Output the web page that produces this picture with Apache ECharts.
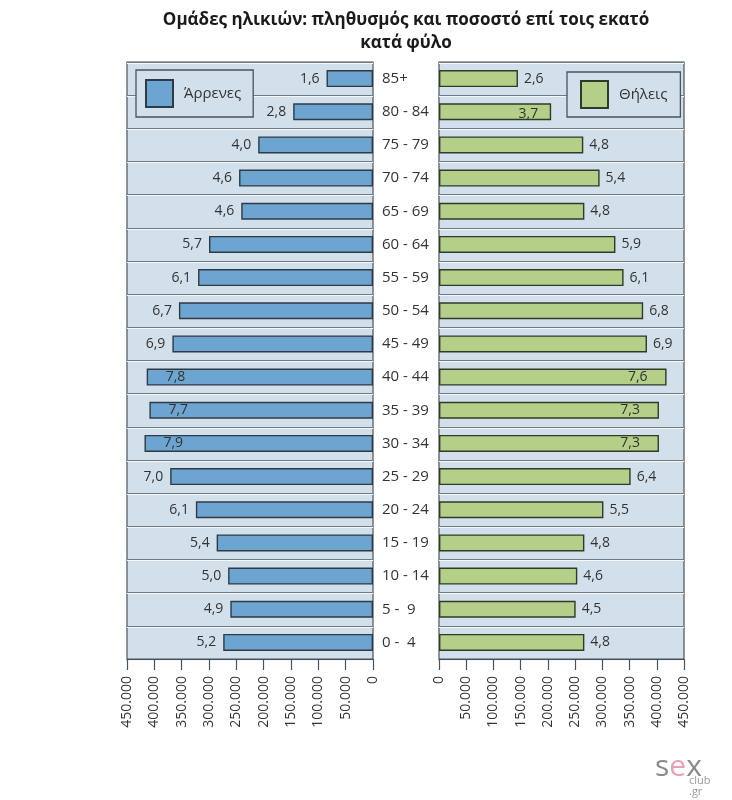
<!DOCTYPE html>
<html>
<head>
<meta charset="utf-8">
<script src="https://cdn.jsdelivr.net/npm/echarts@6/dist/echarts.min.js"></script>
<style>
  html, body { margin: 0; padding: 0; background: #ffffff; }
  #chart { width: 732px; height: 800px; }
</style>
</head>
<body>
<div id="chart"></div>
<script>
// age groups, top row first
const ages = ['85+', '80 - 84', '75 - 79', '70 - 74', '65 - 69', '60 - 64', '55 - 59', '50 - 54', '45 - 49',
  '40 - 44', '35 - 39', '30 - 34', '25 - 29', '20 - 24', '15 - 19', '10 - 14', '5 -  9', '0 -  4'];

// population (bar length)
const malePop = [85000, 146000, 210000, 245000, 241000, 300000, 320000, 355000, 367000,
  414000, 409000, 418000, 371000, 324000, 286000, 265000, 261000, 274000];
const femalePop = [145000, 206000, 265000, 295000, 267000, 324000, 339000, 375000, 382000,
  418000, 404000, 404000, 352000, 302000, 267000, 254000, 251000, 267000];

// percent labels
const malePct = ['1,6', '2,8', '4,0', '4,6', '4,6', '5,7', '6,1', '6,7', '6,9',
  '7,8', '7,7', '7,9', '7,0', '6,1', '5,4', '5,0', '4,9', '5,2'];
const femalePct = ['2,6', '3,7', '4,8', '5,4', '4,8', '5,9', '6,1', '6,8', '6,9',
  '7,6', '7,3', '7,3', '6,4', '5,5', '4,8', '4,6', '4,5', '4,8'];

const maleName = 'Άρρενες';
const femaleName = 'Θήλεις';
const titleLines = ['Ομάδες ηλικιών: πληθυσμός και ποσοστό επί τοις εκατό', 'κατά φύλο'];

// rows where the label sits inside the bar
const maleInside = [9, 10, 11];
const femaleInside = [1, 9, 10, 11];

const FONT = '"Open Sans", "Noto Sans", sans-serif';
const TXT = '#333333';
const PANEL = '#d2e0eb';
const EDGE = '#4a535b';

function thousands(v) {
  if (v === 0) return '0';
  return String(v).replace(/\B(?=(\d{3})+(?!\d))/g, '.');
}

let maleData = malePop.map(function (v, i) {
  let inside = maleInside.indexOf(i) >= 0;
  return {
    value: v,
    label: inside
      ? { position: 'insideLeft', offset: [14, 0] }
      : { position: 'left', distance: 7 }
  };
});

let femaleData = femalePop.map(function (v, i) {
  let inside = femaleInside.indexOf(i) >= 0;
  let off = i === 1 ? [-8, 2] : [-14, 0];
  return {
    value: v,
    label: inside
      ? { position: 'insideRight', offset: off }
      : { position: 'right', distance: 6 }
  };
});

let xCommon = {
  type: 'value',
  min: 0,
  max: 450000,
  interval: 50000,
  axisLine: { show: true, lineStyle: { color: EDGE, width: 1.2 } },
  axisTick: { show: true, length: 11, lineStyle: { color: EDGE, width: 1.2 } },
  splitLine: { show: false },
  axisLabel: {
    rotate: 90,
    margin: 17,
    fontSize: 14,
    fontFamily: FONT,
    color: TXT,
    formatter: thousands
  }
};

let yCommon = {
  type: 'category',
  data: ages,
  inverse: true,
  axisLine: { show: false },
  axisTick: { show: false },
  splitLine: {
    show: true,
    lineStyle: { color: '#6e7a84', width: 1, shadowColor: '#f4f8fb', shadowOffsetY: 1 }
  }
};

let myChart = echarts.init(document.getElementById('chart'), null, { renderer: 'canvas' });

let option = {
  backgroundColor: '#ffffff',
  animation: false,
  textStyle: { fontFamily: FONT },
  grid: [
    { left: 127, right: 359, top: 62, bottom: 141, show: true, backgroundColor: PANEL, borderColor: EDGE, borderWidth: 1.2 },
    { left: 439, right: 48, top: 62, bottom: 141, show: true, backgroundColor: PANEL, borderColor: EDGE, borderWidth: 1.2 }
  ],
  xAxis: [
    Object.assign({}, xCommon, { gridIndex: 0, inverse: true }),
    Object.assign({}, xCommon, { gridIndex: 1 })
  ],
  yAxis: [
    Object.assign({}, yCommon, {
      gridIndex: 0,
      position: 'right',
      axisLabel: { show: true, margin: 9, fontSize: 15, fontFamily: FONT, color: TXT, align: 'left' }
    }),
    Object.assign({}, yCommon, { gridIndex: 1, position: 'left', axisLabel: { show: false } })
  ],
  legend: [
    {
      data: [{ name: maleName, icon: 'rect' }],
      left: 136, top: 70,
      itemWidth: 27, itemHeight: 27,
      padding: [9, 12, 9, 9],
      backgroundColor: PANEL,
      borderColor: EDGE, borderWidth: 1.3,
      textStyle: { fontSize: 15, fontFamily: FONT, color: TXT, padding: [0, 0, 0, 6] },
      selectedMode: false
    },
    {
      data: [{ name: femaleName, icon: 'rect' }],
      left: 567, top: 72,
      itemWidth: 27, itemHeight: 27,
      padding: [8, 13, 8, 13],
      backgroundColor: PANEL,
      borderColor: EDGE, borderWidth: 1.3,
      textStyle: { fontSize: 15, fontFamily: FONT, color: TXT, padding: [0, 0, 0, 6] },
      selectedMode: false
    }
  ],
  series: [
    {
      name: maleName,
      type: 'bar',
      xAxisIndex: 0, yAxisIndex: 0,
      data: maleData,
      barWidth: 17,
      itemStyle: { color: '#6ca5cf', borderColor: '#2f3a44', borderWidth: 1.4 },
      label: {
        show: true, fontSize: 14, fontFamily: FONT, color: TXT,
        formatter: function (p) { return malePct[p.dataIndex]; }
      }
    },
    {
      name: femaleName,
      type: 'bar',
      xAxisIndex: 1, yAxisIndex: 1,
      data: femaleData,
      barWidth: 17,
      itemStyle: { color: '#b4cf88', borderColor: '#2f3a2a', borderWidth: 1.4 },
      label: {
        show: true, fontSize: 14, fontFamily: FONT, color: TXT,
        formatter: function (p) { return femalePct[p.dataIndex]; }
      }
    }
  ],
  graphic: [
    {
      type: 'text', x: 406, y: 9,
      style: {
        text: titleLines.join('\n'),
        textAlign: 'center',
        font: 'bold 17px ' + FONT,
        lineHeight: 23,
        fill: '#1a1a1a'
      }
    },
    {
      type: 'text', x: 655, y: 752,
      style: {
        text: '{s|s}{e|e}{s|x}',
        rich: {
          s: { fontSize: 30, fontFamily: FONT, fill: '#8a8a8a', color: '#8a8a8a' },
          e: { fontSize: 30, fontFamily: FONT, fill: '#e8a0b4', color: '#e8a0b4' }
        }
      }
    },
    {
      type: 'text', x: 689, y: 775,
      style: { text: 'club\n.gr', font: '11px ' + FONT, lineHeight: 11, fill: '#9a9a9a' }
    }
  ]
};

myChart.setOption(option);
</script>
</body>
</html>
